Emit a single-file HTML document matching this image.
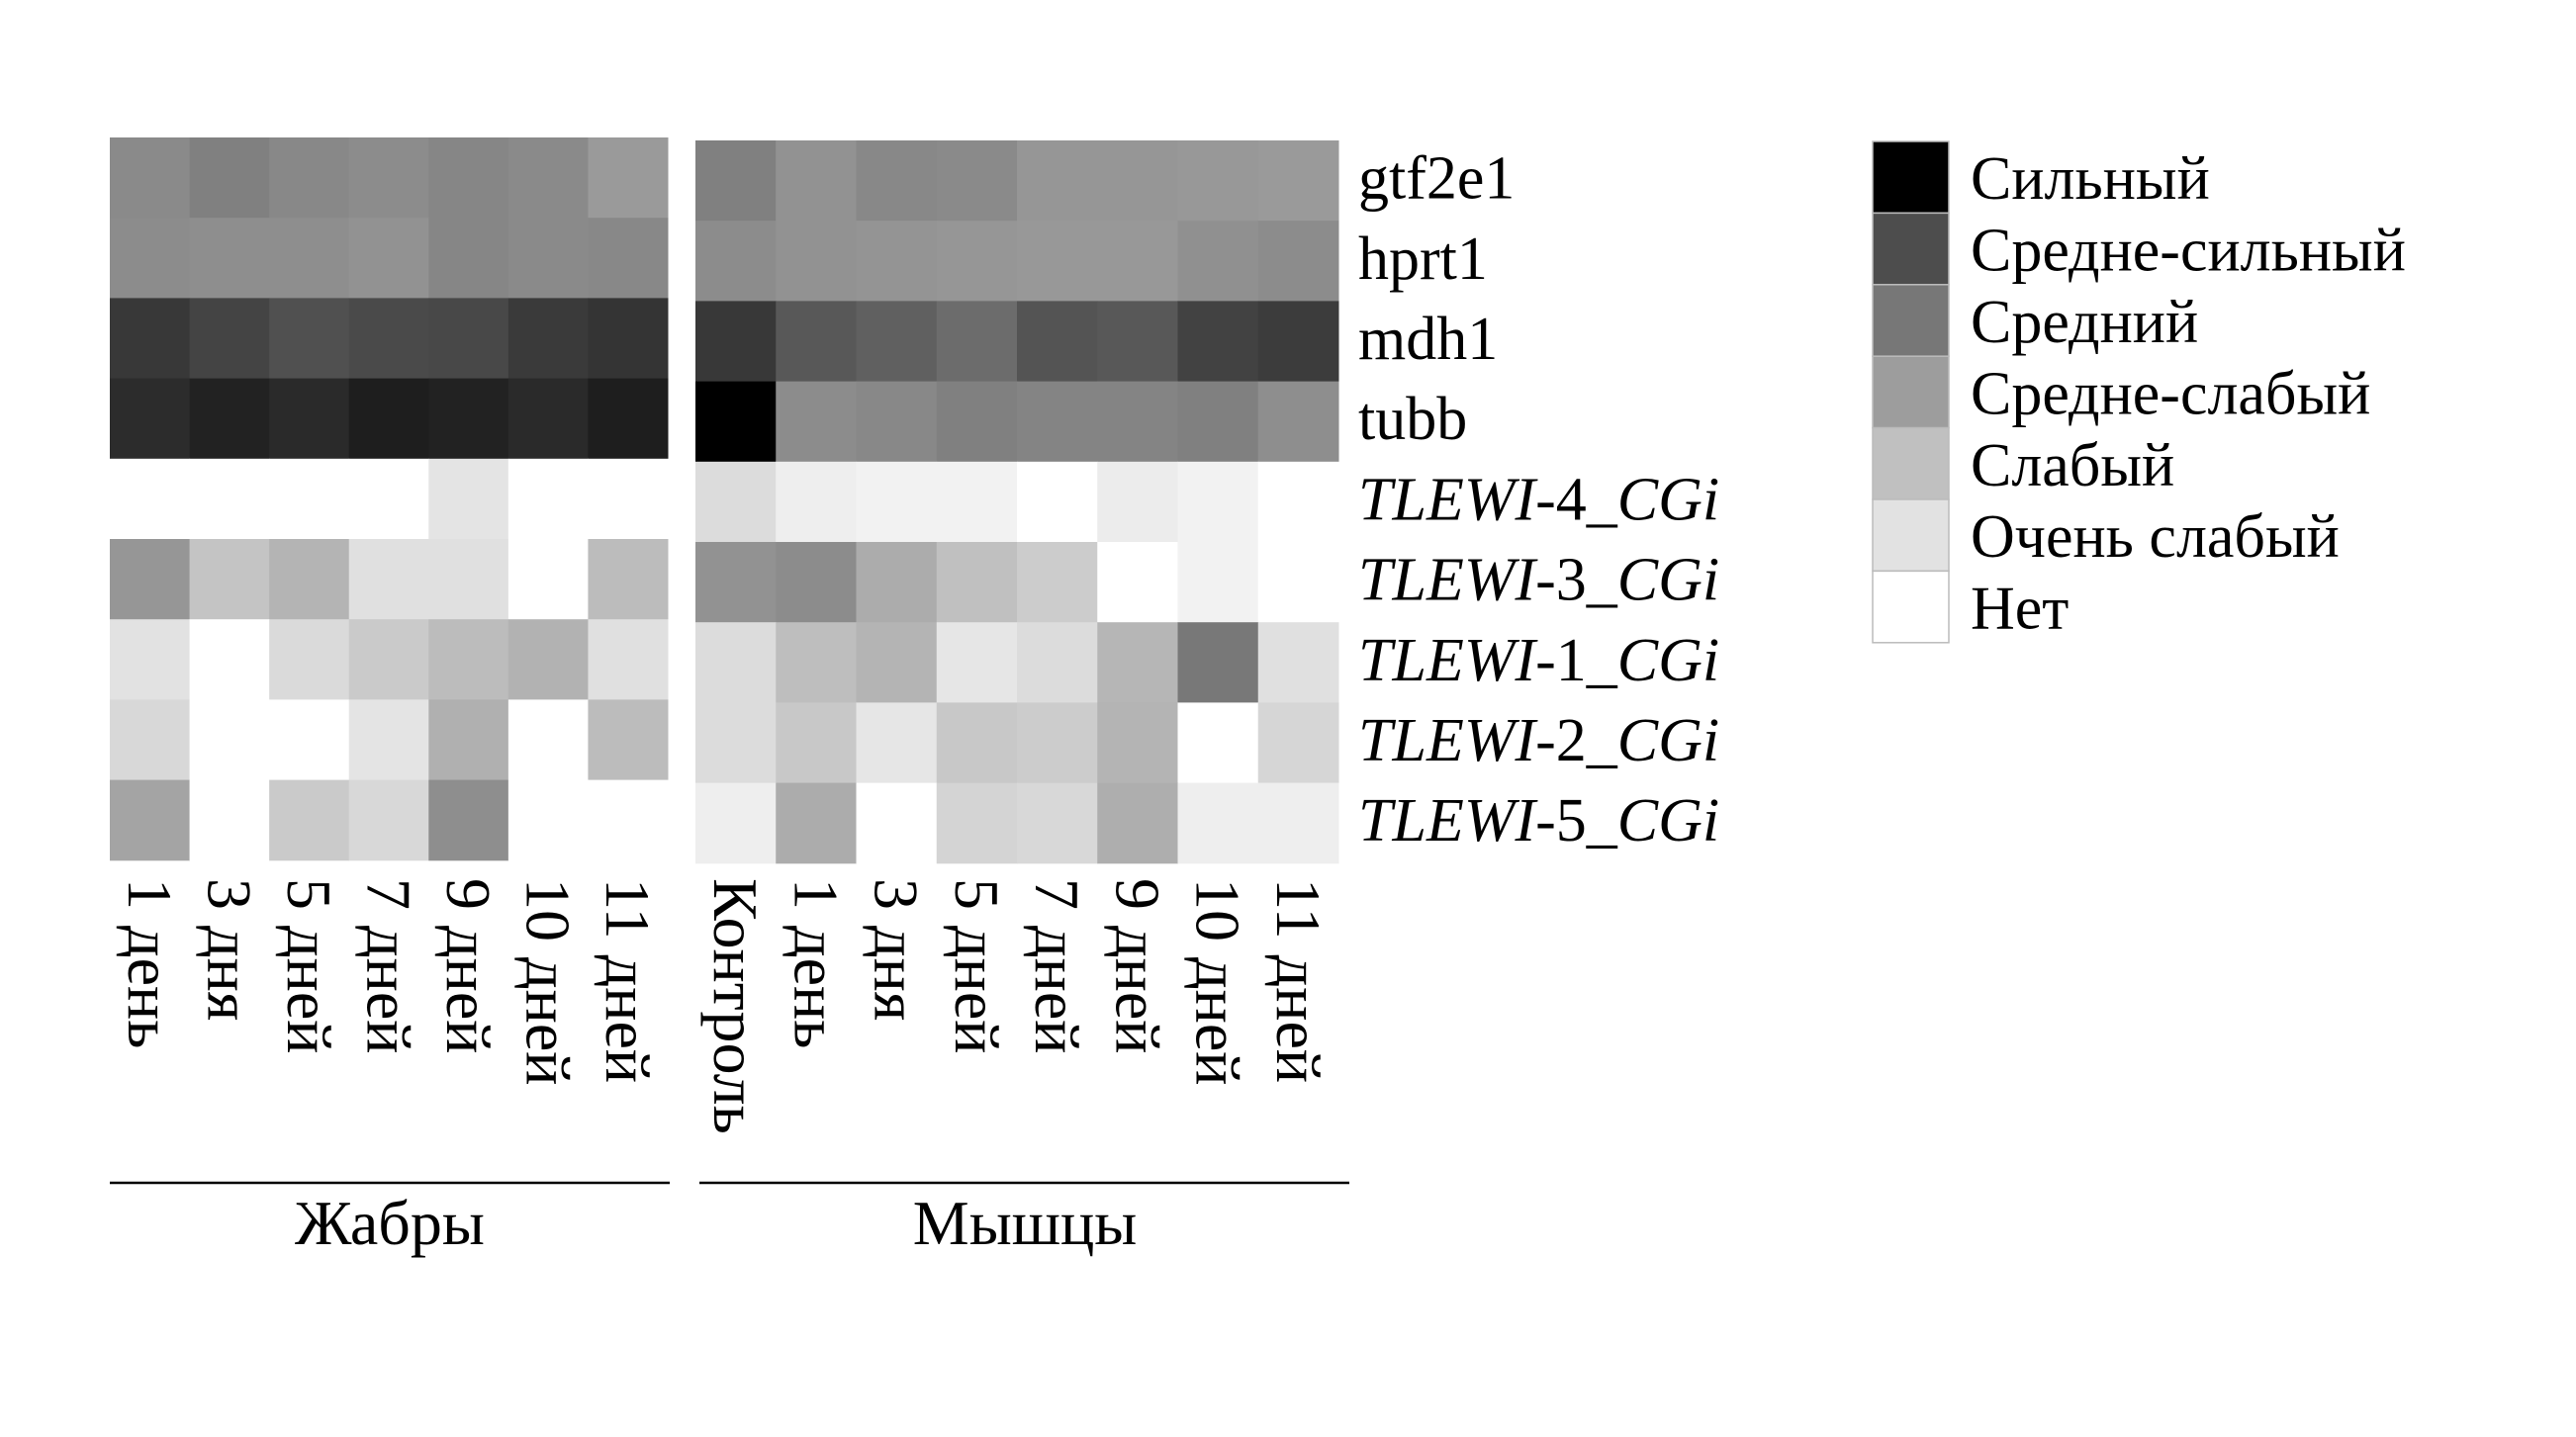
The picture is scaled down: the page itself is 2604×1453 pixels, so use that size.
<!DOCTYPE html>
<html><head><meta charset="utf-8"><style>
html,body{margin:0;padding:0;background:#fff;}
svg{display:block;font-family:"Liberation Serif",serif;}
</style></head><body>
<svg id="chart" width="2604" height="1453" viewBox="0 0 2604 1453" xmlns="http://www.w3.org/2000/svg"></svg>
<script>
const genes = ["gtf2e1","hprt1","mdh1","tubb","TLEWI-4_CGi","TLEWI-3_CGi","TLEWI-1_CGi","TLEWI-2_CGi","TLEWI-5_CGi"];
const gillCols = ["1 день","3 дня","5 дней","7 дней","9 дней","10 дней","11 дней"];
const muscleCols = ["Контроль","1 день","3 дня","5 дней","7 дней","9 дней","10 дней","11 дней"];
// intensity values 0 (none) .. 255 (strong)
const gillValues = [
 [117,127,119,115,121,117,101],
 [115,113,113,109,121,117,119],
 [199,187,175,181,183,197,203],
 [211,221,213,225,221,213,225],
 [0,0,0,0,27,0,0],
 [105,59,75,31,31,0,67],
 [29,0,37,53,67,77,31],
 [39,0,0,27,79,0,67],
 [91,0,53,39,113,0,0]
];
const muscleValues = [
 [127,109,119,117,105,105,103,101],
 [115,109,107,105,103,103,111,115],
 [199,167,159,147,171,167,189,195],
 [255,115,119,127,123,123,127,113],
 [35,17,13,13,0,19,13,0],
 [109,115,83,63,51,0,13,0],
 [35,65,75,25,35,73,135,31],
 [35,55,25,55,51,75,0,41],
 [17,83,0,43,39,81,17,17]
];
const legendLabels = ["Сильный","Средне-сильный","Средний","Средне-слабый","Слабый","Очень слабый","Нет"];
const legendValues = [255,178,136,98,63,29,0];

const svg = document.getElementById('chart');
const NS = "http://www.w3.org/2000/svg";
function mk(tag, attrs){const e=document.createElementNS(NS,tag);for(const k in attrs)e.setAttribute(k,attrs[k]);svg.appendChild(e);return e;}
function gray(v){const g=255-v;return `rgb(${g},${g},${g})`;}
const rowH = 81.2;
function yRow(i,top){return top+i*rowH;}

function panel(cols, vals, x0, x1, top, name){
  const cw=(x1-x0)/cols.length;
  vals.forEach((row,i)=>row.forEach((v,j)=>{
    const r=mk('rect',{x:x0+j*cw,y:yRow(i,top),width:cw+0.5,height:rowH+0.5,fill:gray(v)});
    
    
  }));
  cols.forEach((c,j)=>{
    const cx=x0+(j+0.5)*cw;
    const t=mk('text',{x:0,y:0,'font-size':64,'dominant-baseline':'central',transform:`translate(${cx},888) rotate(90)`});
    t.textContent=c;
    
    
  });
}
panel(gillCols, gillValues, 111, 675, 139, 'gills');
panel(muscleCols, muscleValues, 703, 1353, 142, 'muscles');

genes.forEach((g,i)=>{
  const t=mk('text',{x:1373,y:yRow(i,139)+rowH/2+21,'font-size':62});
  if(g.startsWith('TLEWI')){
    const p=g.split('-'); const rest=p[1].split('_');
    t.innerHTML=`<tspan font-style="italic">TLEWI</tspan>-${rest[0]}_<tspan font-style="italic">CGi</tspan>`;
  } else t.textContent=g;
  
  
});

let l=mk('line',{x1:111,x2:677,y1:1196,y2:1196,stroke:'#000','stroke-width':2.5});


l=mk('line',{x1:707,x2:1364,y1:1196,y2:1196,stroke:'#000','stroke-width':2.5});


let gt=mk('text',{x:394,y:1258,'font-size':64,'text-anchor':'middle'});gt.textContent='Жабры';


gt=mk('text',{x:1036,y:1258,'font-size':64,'text-anchor':'middle'});gt.textContent='Мышцы';



const lh=72.4;
legendLabels.forEach((lab,i)=>{
  const r=mk('rect',{x:1893,y:143+i*lh,width:77,height:lh,fill:gray(legendValues[i]),stroke:'#bbb','stroke-width':1.5});
  
  
  const t=mk('text',{x:1992,y:143+i*lh+lh/2+22,'font-size':62});
  t.textContent=lab;
  
  
});
</script>
</body></html>
